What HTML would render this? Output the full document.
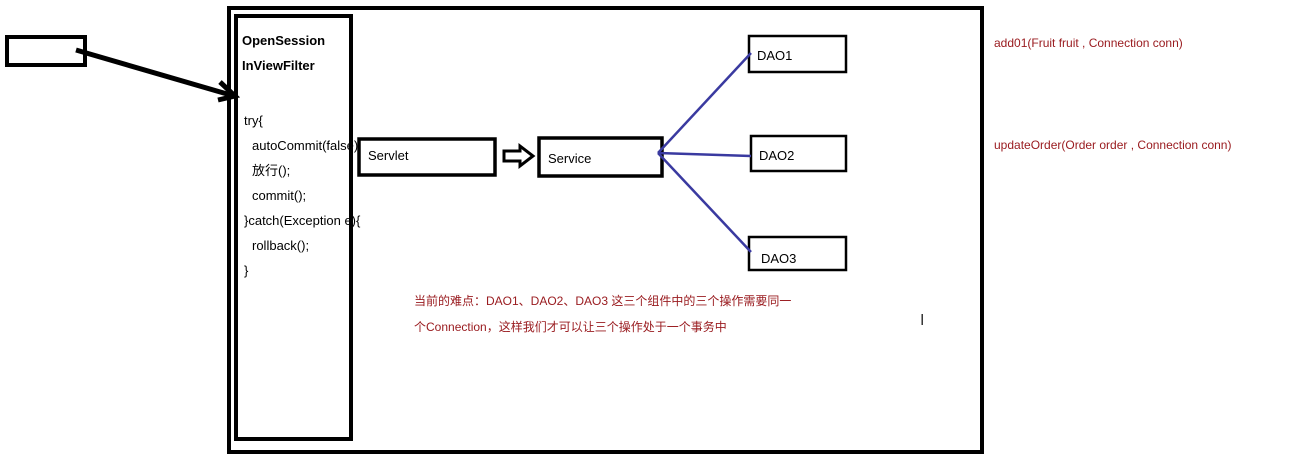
<!DOCTYPE html>
<html><head><meta charset="utf-8"><style>
body{margin:0;background:#fff;width:1293px;height:466px;overflow:hidden}
text{font-family:"Liberation Sans","Noto Sans CJK SC",sans-serif}
</style></head><body>
<svg width="1293" height="466" xmlns="http://www.w3.org/2000/svg">
<rect x="229" y="8" width="753" height="444" fill="none" stroke="#000" stroke-width="4"/>
<rect x="236" y="16" width="115" height="423" fill="none" stroke="#000" stroke-width="4"/>
<rect x="7" y="37" width="78" height="28" fill="none" stroke="#000" stroke-width="4"/>
<line x1="76" y1="50" x2="234" y2="96" stroke="#000" stroke-width="5"/>
<polyline points="220,82 235,96 218,100" fill="none" stroke="#000" stroke-width="5"/>
<g font-size="13" fill="#000">
<text x="242" y="45" font-weight="bold">OpenSession</text>
<text x="242" y="70" font-weight="bold">InViewFilter</text>
<text x="244" y="125">try{</text>
<text x="252" y="150">autoCommit(false)</text>
<text x="252" y="175">放行();</text>
<text x="252" y="200">commit();</text>
<text x="244" y="225">}catch(Exception e){</text>
<text x="252" y="250">rollback();</text>
<text x="244" y="275">}</text>
</g>
<rect x="359" y="139" width="136" height="36" fill="#fff" stroke="#000" stroke-width="3.5"/>
<text x="368" y="160" font-size="13">Servlet</text>
<polygon points="504,151 520,151 520,146 533,156 520,166 520,161 504,161" fill="#fff" stroke="#000" stroke-width="3"/>
<rect x="539" y="138" width="123" height="38" fill="none" stroke="#000" stroke-width="3.5"/>
<text x="548" y="163" font-size="13">Service</text>
<rect x="749" y="36" width="97" height="36" fill="none" stroke="#000" stroke-width="2.5"/>
<text x="757" y="60" font-size="13">DAO1</text>
<rect x="751" y="136" width="95" height="35" fill="none" stroke="#000" stroke-width="2.5"/>
<text x="759" y="160" font-size="13">DAO2</text>
<rect x="749" y="237" width="97" height="33" fill="none" stroke="#000" stroke-width="2.5"/>
<text x="761" y="263" font-size="13">DAO3</text>
<g stroke="#3a3aa0" stroke-width="2.5">
<line x1="658" y1="153" x2="751" y2="53"/>
<line x1="658" y1="153" x2="751" y2="156"/>
<line x1="658" y1="153" x2="751" y2="252"/>
</g>
<g font-size="12" fill="#9a1c20">
<text x="414" y="305">当前的难点：DAO1、DAO2、DAO3 这三个组件中的三个操作需要同一</text>
<text x="414" y="331">个Connection，这样我们才可以让三个操作处于一个事务中</text>
<text x="994" y="47">add01(Fruit fruit , Connection conn)</text>
<text x="994" y="149">updateOrder(Order order , Connection conn)</text>
</g>
<text x="920" y="325" font-size="16" fill="#333">I</text>
</svg>
</body></html>
